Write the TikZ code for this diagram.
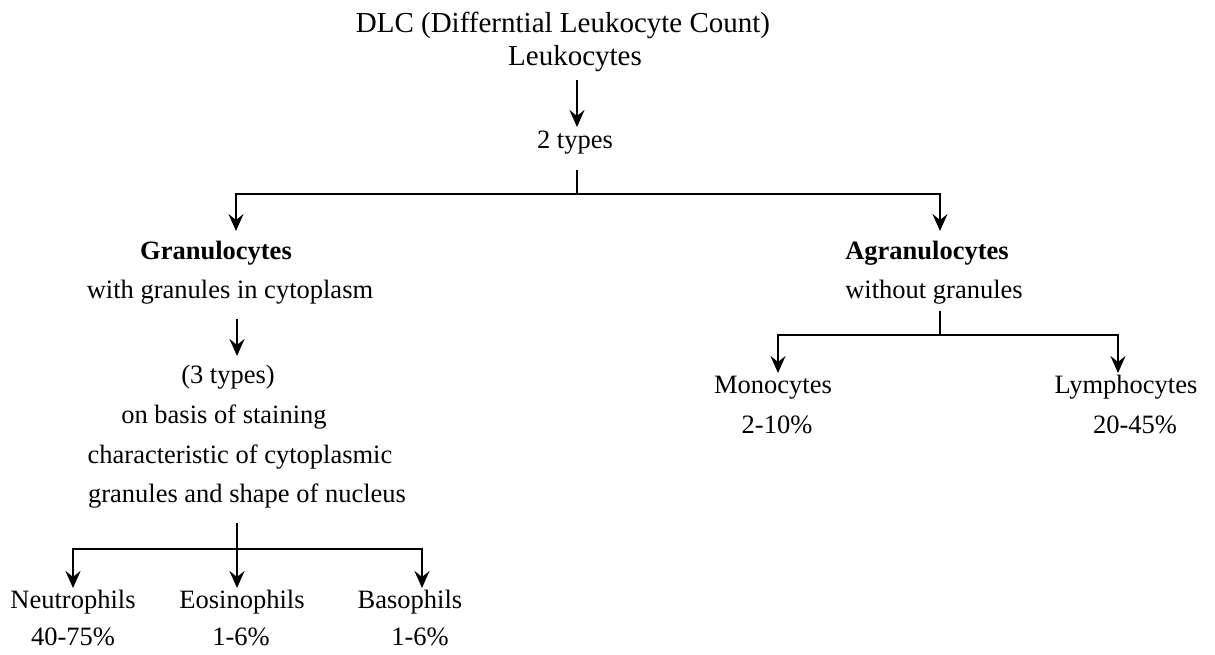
\documentclass[tikz,border=0pt]{standalone}
\usepackage{fontspec}
\setmainfont{Liberation Serif}
\usetikzlibrary{arrows.meta}
\begin{document}
\begin{tikzpicture}[x=1pt,y=-1pt,
  lbl/.style={anchor=base, inner sep=0pt, font=\fontsize{26.5}{30}\selectfont},
  big/.style={anchor=base, inner sep=0pt, font=\fontsize{29}{32}\selectfont},
  bld/.style={anchor=base, inner sep=0pt, font=\fontsize{26.5}{30}\selectfont\bfseries},
  ln/.style={line width=2.5pt},
  arr/.style={ln, -{Stealth[length=17pt,width=15pt,inset=6pt]}}]
\path[use as bounding box, fill=white] (0,0) rectangle (1215,654);

% texts
\node[big] (title) at (563,32) {DLC (Differntial Leukocyte Count)};
\node[big] (leuk) at (575,65) {Leukocytes};
\node[lbl] (two) at (575,148) {2 types};
\node[bld] (gran) at (216,259) {Granulocytes};
\node[lbl] (gdesc) at (230,298) {with granules in cytoplasm};
\node[lbl] (three) at (228,383) {(3 types)};
\node[lbl] (basis) at (224,423) {on basis of staining};
\node[lbl] (charac) at (240,463) {characteristic of cytoplasmic};
\node[lbl] (granu) at (247,502) {granules and shape of nucleus};
\node[lbl] (neut) at (73,608) {Neutrophils};
\node[lbl] (neutp) at (73,645) {40-75\%};
\node[lbl] (eos) at (242,608) {Eosinophils};
\node[lbl] (eosp) at (241,645) {1-6\%};
\node[lbl] (baso) at (410,608) {Basophils};
\node[lbl] (basop) at (420,645) {1-6\%};
\node[bld] (agran) at (927,259) {Agranulocytes};
\node[lbl] (adesc) at (934,298) {without granules};
\node[lbl] (mono) at (773,393) {Monocytes};
\node[lbl] (monop) at (777,433) {2-10\%};
\node[lbl] (lymph) at (1126,393) {Lymphocytes};
\node[lbl] (lymphp) at (1135,433) {20-45\%};

% connector points
\coordinate (a1s) at (577,80);
\coordinate (a1e) at (577,127);
\coordinate (s1s) at (577,170);
\coordinate (j1) at (577,194);
\coordinate (gtip) at (236,231);
\coordinate (atip) at (940,231);
\coordinate (a2s) at (237,319);
\coordinate (a2e) at (237,356);
\coordinate (s2s) at (237,523);
\coordinate (j2) at (237,549);
\coordinate (ntip) at (73,588);
\coordinate (etip) at (237,588);
\coordinate (btip) at (422,588);
\coordinate (s3s) at (940,311);
\coordinate (j3) at (940,335);
\coordinate (mtip) at (778,373);
\coordinate (ltip) at (1118,373);

% connectors
\draw[arr] (a1s) -- (a1e);
\draw[ln] (s1s) -- (j1);
\draw[arr] (j1) -| (gtip);
\draw[arr] (j1) -| (atip);
\draw[arr] (a2s) -- (a2e);
\draw[ln] (s2s) -- (j2);
\draw[arr] (j2) -| (ntip);
\draw[arr] (j2) -- (etip);
\draw[arr] (j2) -| (btip);
\draw[ln] (s3s) -- (j3);
\draw[arr] (j3) -| (mtip);
\draw[arr] (j3) -| (ltip);
\end{tikzpicture}
\end{document}
